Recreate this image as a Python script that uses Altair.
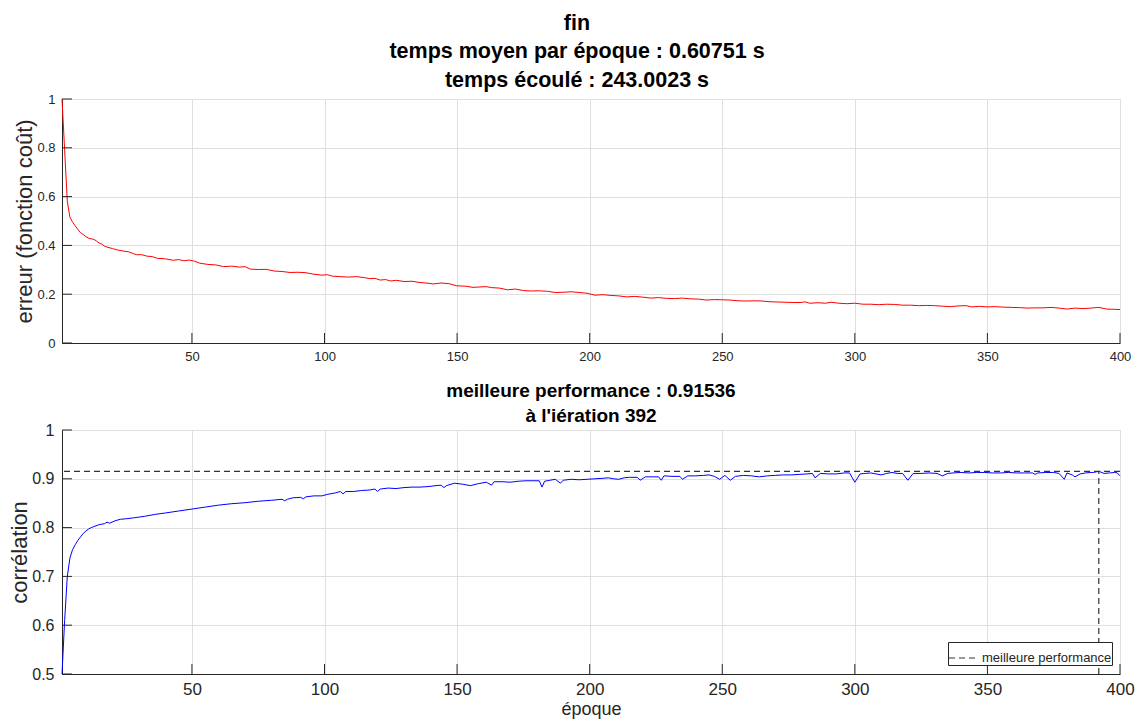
import altair as alt
import pandas as pd

FONT = "Liberation Sans"
AX = "#262626"
GRID = "#dfdfdf"

# ---- data ----
err_epochs = [1, 2, 3, 4, 5, 6, 7, 8, 9, 10, 11, 12, 13, 14, 15, 16, 17, 18, 20, 22, 24, 26, 28, 29, 31, 33, 35, 37, 40, 43,
              45, 47, 49, 51, 53, 56, 59, 62, 65, 68, 70, 72, 75, 78, 81, 84, 87, 90, 93, 96, 99, 101, 103, 106, 109, 112,
              115, 117, 119, 121, 123, 125, 127, 130, 133, 136, 139, 141, 144, 147, 150, 153, 156, 159, 161, 163, 166, 169,
              172, 175, 178, 181, 184, 187, 190, 193, 196, 199, 202, 205, 208, 211, 214, 217, 220, 223, 226, 229, 232, 235,
              238, 241, 244, 247, 250, 253, 256, 259, 262, 265, 268, 271, 274, 277, 280, 281, 283, 286, 289, 291, 294, 297,
              300, 303, 306, 309, 312, 315, 318, 321, 324, 327, 330, 333, 336, 339, 342, 344, 347, 350, 353, 356, 359, 362,
              365, 368, 371, 374, 377, 380, 383, 386, 389, 392, 395, 398, 400]
err_values = [1.0, 0.79, 0.58, 0.515, 0.495, 0.48, 0.465, 0.452, 0.445, 0.436, 0.43, 0.427, 0.425, 0.418, 0.41, 0.405, 0.397,
              0.393, 0.387, 0.381, 0.377, 0.374, 0.366, 0.362, 0.362, 0.356, 0.354, 0.347, 0.345, 0.339, 0.342, 0.337, 0.34,
              0.335, 0.327, 0.322, 0.32, 0.313, 0.315, 0.311, 0.313, 0.303, 0.301, 0.302, 0.295, 0.293, 0.289, 0.29, 0.288,
              0.282, 0.278, 0.28, 0.274, 0.272, 0.27, 0.272, 0.268, 0.264, 0.265, 0.258, 0.26, 0.254, 0.257, 0.252, 0.253,
              0.248, 0.245, 0.242, 0.246, 0.243, 0.234, 0.233, 0.228, 0.23, 0.231, 0.227, 0.225, 0.218, 0.221, 0.215, 0.213,
              0.214, 0.212, 0.207, 0.208, 0.21, 0.207, 0.204, 0.196, 0.198, 0.195, 0.193, 0.189, 0.191, 0.188, 0.184, 0.186,
              0.183, 0.182, 0.184, 0.181, 0.18, 0.176, 0.178, 0.177, 0.176, 0.173, 0.172, 0.173, 0.172, 0.169, 0.168, 0.167,
              0.166, 0.166, 0.169, 0.163, 0.165, 0.163, 0.167, 0.163, 0.161, 0.163, 0.159, 0.159, 0.157, 0.159, 0.158, 0.155,
              0.155, 0.153, 0.154, 0.153, 0.151, 0.149, 0.152, 0.153, 0.148, 0.15, 0.148, 0.149, 0.147, 0.146, 0.145, 0.143,
              0.144, 0.144, 0.146, 0.143, 0.139, 0.143, 0.141, 0.143, 0.146, 0.139, 0.138, 0.137]

corr_epochs = [1, 2, 3, 4, 5, 6, 7, 8, 9, 10, 11, 12, 13, 15, 17, 18, 19, 21, 23, 25, 28, 32, 36, 40, 45, 50, 55, 60, 65, 70,
               75, 80, 84, 85, 86, 88, 91, 92, 93, 96, 99, 101, 104, 106, 107, 108, 111, 114, 117, 119, 120, 121, 124, 127,
               130, 133, 136, 139, 142, 144, 145, 146, 149, 152, 155, 158, 161, 163, 164, 167, 170, 173, 176, 179, 181, 182,
               183, 185, 187, 189, 190, 193, 196, 199, 202, 205, 207, 209, 211, 213, 215, 218, 219, 221, 224, 226, 227, 228,
               231, 234, 235, 237, 240, 243, 245, 247, 249, 251, 253, 255, 258, 261, 264, 267, 270, 273, 276, 279, 282, 284,
               285, 287, 290, 293, 296, 298, 300, 302, 304, 306, 308, 310, 312, 314, 316, 318, 320, 322, 325, 328, 331, 333,
               335, 337, 340, 343, 346, 349, 352, 355, 358, 361, 364, 367, 368, 369, 372, 375, 377, 379, 380, 382, 383, 385,
               387, 389, 390, 392, 394, 396, 398, 399, 400]
corr_values = [0.5, 0.61, 0.70, 0.738, 0.755, 0.765, 0.774, 0.781, 0.788, 0.793, 0.797, 0.8, 0.802, 0.806, 0.808, 0.811,
               0.809, 0.814, 0.817, 0.818, 0.82, 0.823, 0.827, 0.83, 0.834, 0.838, 0.842, 0.846, 0.849, 0.851, 0.854, 0.856,
               0.858, 0.855, 0.858, 0.861, 0.862, 0.859, 0.863, 0.865, 0.865, 0.868, 0.871, 0.874, 0.869, 0.874, 0.874, 0.876,
               0.877, 0.879, 0.874, 0.879, 0.881, 0.88, 0.882, 0.883, 0.883, 0.884, 0.886, 0.887, 0.882, 0.886, 0.891, 0.889,
               0.886, 0.89, 0.893, 0.887, 0.894, 0.894, 0.893, 0.895, 0.896, 0.896, 0.896, 0.883, 0.895, 0.897, 0.899, 0.891,
               0.897, 0.899, 0.898, 0.899, 0.9, 0.901, 0.902, 0.9, 0.899, 0.902, 0.903, 0.903, 0.897, 0.904, 0.904, 0.904,
               0.897, 0.906, 0.905, 0.905, 0.899, 0.906, 0.906, 0.907, 0.908, 0.905, 0.899, 0.907, 0.897, 0.905, 0.907, 0.906,
               0.904, 0.906, 0.907, 0.908, 0.908, 0.909, 0.91, 0.911, 0.902, 0.911, 0.91, 0.91, 0.912, 0.912, 0.893, 0.91,
               0.911, 0.912, 0.91, 0.908, 0.911, 0.913, 0.911, 0.911, 0.897, 0.911, 0.911, 0.912, 0.911, 0.906, 0.911, 0.912,
               0.913, 0.912, 0.913, 0.913, 0.912, 0.912, 0.913, 0.912, 0.912, 0.912, 0.909, 0.912, 0.913, 0.913, 0.911, 0.899,
               0.912, 0.908, 0.904, 0.91, 0.912, 0.913, 0.913, 0.91536, 0.911, 0.912, 0.913, 0.912, 0.906]

best_perf = 0.91536
best_iter = 392
best_label = "meilleure performance"

x_ticks = [50, 100, 150, 200, 250, 300, 350, 400]
err_ticks = [0, 0.2, 0.4, 0.6, 0.8, 1]
corr_ticks = [0.5, 0.6, 0.7, 0.8, 0.9, 1]

title_top = ["fin", "temps moyen par époque : 0.60751 s", "temps écoulé : 243.0023 s"]
title_bottom = ["meilleure performance : 0.91536", "à l'iération 392"]

W, H = 1058, 244
TICK = 10
GAP = 330  # distance between the two plot-area tops (used to place the legend)
LEG_H = 23

# ---- top panel ----
err_df = pd.DataFrame({"epoque": err_epochs, "erreur": err_values})
xs = alt.Scale(domain=[1, 400], nice=False, zero=False)
ys_top = alt.Scale(domain=[0, 1], nice=False)

x_axis_top = alt.Axis(values=x_ticks, title=None, labelFontSize=13, labelPadding=7, tickSize=0, labelFlush=False,
                      grid=True, gridColor=GRID, domainColor=AX, labelColor=AX, labelFont=FONT)
y_axis_top = alt.Axis(values=err_ticks, title="erreur (fonction coût)", titleFontSize=22, titleFont=FONT,
                      titleFontWeight="normal", titleColor=AX, titlePadding=0, labelFontSize=13, labelPadding=7,
                      format=".1~f", tickSize=0, grid=True, gridColor=GRID, domainColor=AX, labelColor=AX,
                      labelFont=FONT)

top_line = alt.Chart(err_df).mark_line(color="#ff0000", strokeWidth=1).encode(
    x=alt.X("epoque:Q", scale=xs, axis=x_axis_top),
    y=alt.Y("erreur:Q", scale=ys_top, axis=y_axis_top),
)
top_xt = alt.Chart(pd.DataFrame({"epoque": x_ticks})).mark_rule(color=AX, strokeWidth=1).encode(
    x=alt.X("epoque:Q", scale=xs), y=alt.value(H), y2=alt.value(H - TICK))
top_yt = alt.Chart(pd.DataFrame({"erreur": err_ticks})).mark_rule(color=AX, strokeWidth=1).encode(
    y=alt.Y("erreur:Q", scale=ys_top), x=alt.value(0), x2=alt.value(TICK))

top = alt.layer(top_line, top_xt, top_yt).properties(
    width=W, height=H,
    title=alt.TitleParams(text=title_top, fontSize=21.5, fontWeight="bold", font=FONT, color="#000000",
                          lineHeight=28.5, anchor="middle", dx=-14, offset=2),
)

# ---- bottom panel ----
corr_df = pd.DataFrame({"epoque": corr_epochs, "correlation": corr_values})
ys_bot = alt.Scale(domain=[0.5, 1], nice=False, zero=False)

x_axis_bot = alt.Axis(values=x_ticks, title="époque", titleFontSize=18, titleFont=FONT, titleFontWeight="normal",
                      titleColor=AX, titlePadding=3, labelFontSize=17, labelPadding=7, tickSize=0, labelFlush=False,
                      grid=True, gridColor=GRID, domainColor=AX, labelColor=AX, labelFont=FONT)
y_axis_bot = alt.Axis(values=corr_ticks, title="corrélation", titleFontSize=22, titleFont=FONT,
                      titleFontWeight="normal", titleColor=AX, titlePadding=0, labelFontSize=16, labelPadding=8,
                      format=".1~f", tickSize=0, grid=True, gridColor=GRID, domainColor=AX, labelColor=AX,
                      labelFont=FONT)

bot_line = alt.Chart(corr_df).mark_line(color="#0000ff", strokeWidth=1).encode(
    x=alt.X("epoque:Q", scale=xs, axis=x_axis_bot),
    y=alt.Y("correlation:Q", scale=ys_bot, axis=y_axis_bot),
)
best_h = alt.Chart(pd.DataFrame({"correlation": [best_perf], "nom": [best_label]})).mark_rule(
    strokeDash=[6, 4], strokeWidth=1.2).encode(
    y=alt.Y("correlation:Q", scale=ys_bot),
    color=alt.Color("nom:N", scale=alt.Scale(range=["#333333"]),
                    legend=alt.Legend(title=None, orient="none", legendX=W - 172, legendY=GAP + H - 8 - LEG_H,
                                      symbolType="stroke", symbolDash=[6, 4], symbolStrokeWidth=1.2,
                                      symbolSize=900, labelFontSize=13, labelFont=FONT, labelColor=AX,
                                      padding=0, strokeColor=AX, fillColor="white", labelOffset=2)),
)
best_v = alt.Chart(pd.DataFrame({"epoque": [best_iter], "correlation": [0.5], "haut": [best_perf]})).mark_rule(
    strokeDash=[6, 4], strokeWidth=1.2, color="#333333").encode(
    x=alt.X("epoque:Q", scale=xs),
    y=alt.Y("correlation:Q", scale=ys_bot),
    y2="haut:Q",
)
bot_xt = alt.Chart(pd.DataFrame({"epoque": x_ticks})).mark_rule(color=AX, strokeWidth=1).encode(
    x=alt.X("epoque:Q", scale=xs), y=alt.value(H), y2=alt.value(H - TICK))
bot_yt = alt.Chart(pd.DataFrame({"correlation": corr_ticks})).mark_rule(color=AX, strokeWidth=1).encode(
    y=alt.Y("correlation:Q", scale=ys_bot), x=alt.value(0), x2=alt.value(TICK))

bottom = alt.layer(bot_line, best_h, best_v, bot_xt, bot_yt).properties(
    width=W, height=H,
    title=alt.TitleParams(text=title_bottom, fontSize=19, fontWeight="bold", font=FONT, color="#000000",
                          lineHeight=25, anchor="middle", offset=-4),
)

chart = alt.vconcat(top, bottom, spacing=17).properties(
    padding={"left": 0, "top": 4, "right": 0, "bottom": 0}
).configure_view(stroke=GRID, strokeWidth=1).configure(background="white")

chart.save("out.html", embed_options={"renderer": "svg", "actions": False})
